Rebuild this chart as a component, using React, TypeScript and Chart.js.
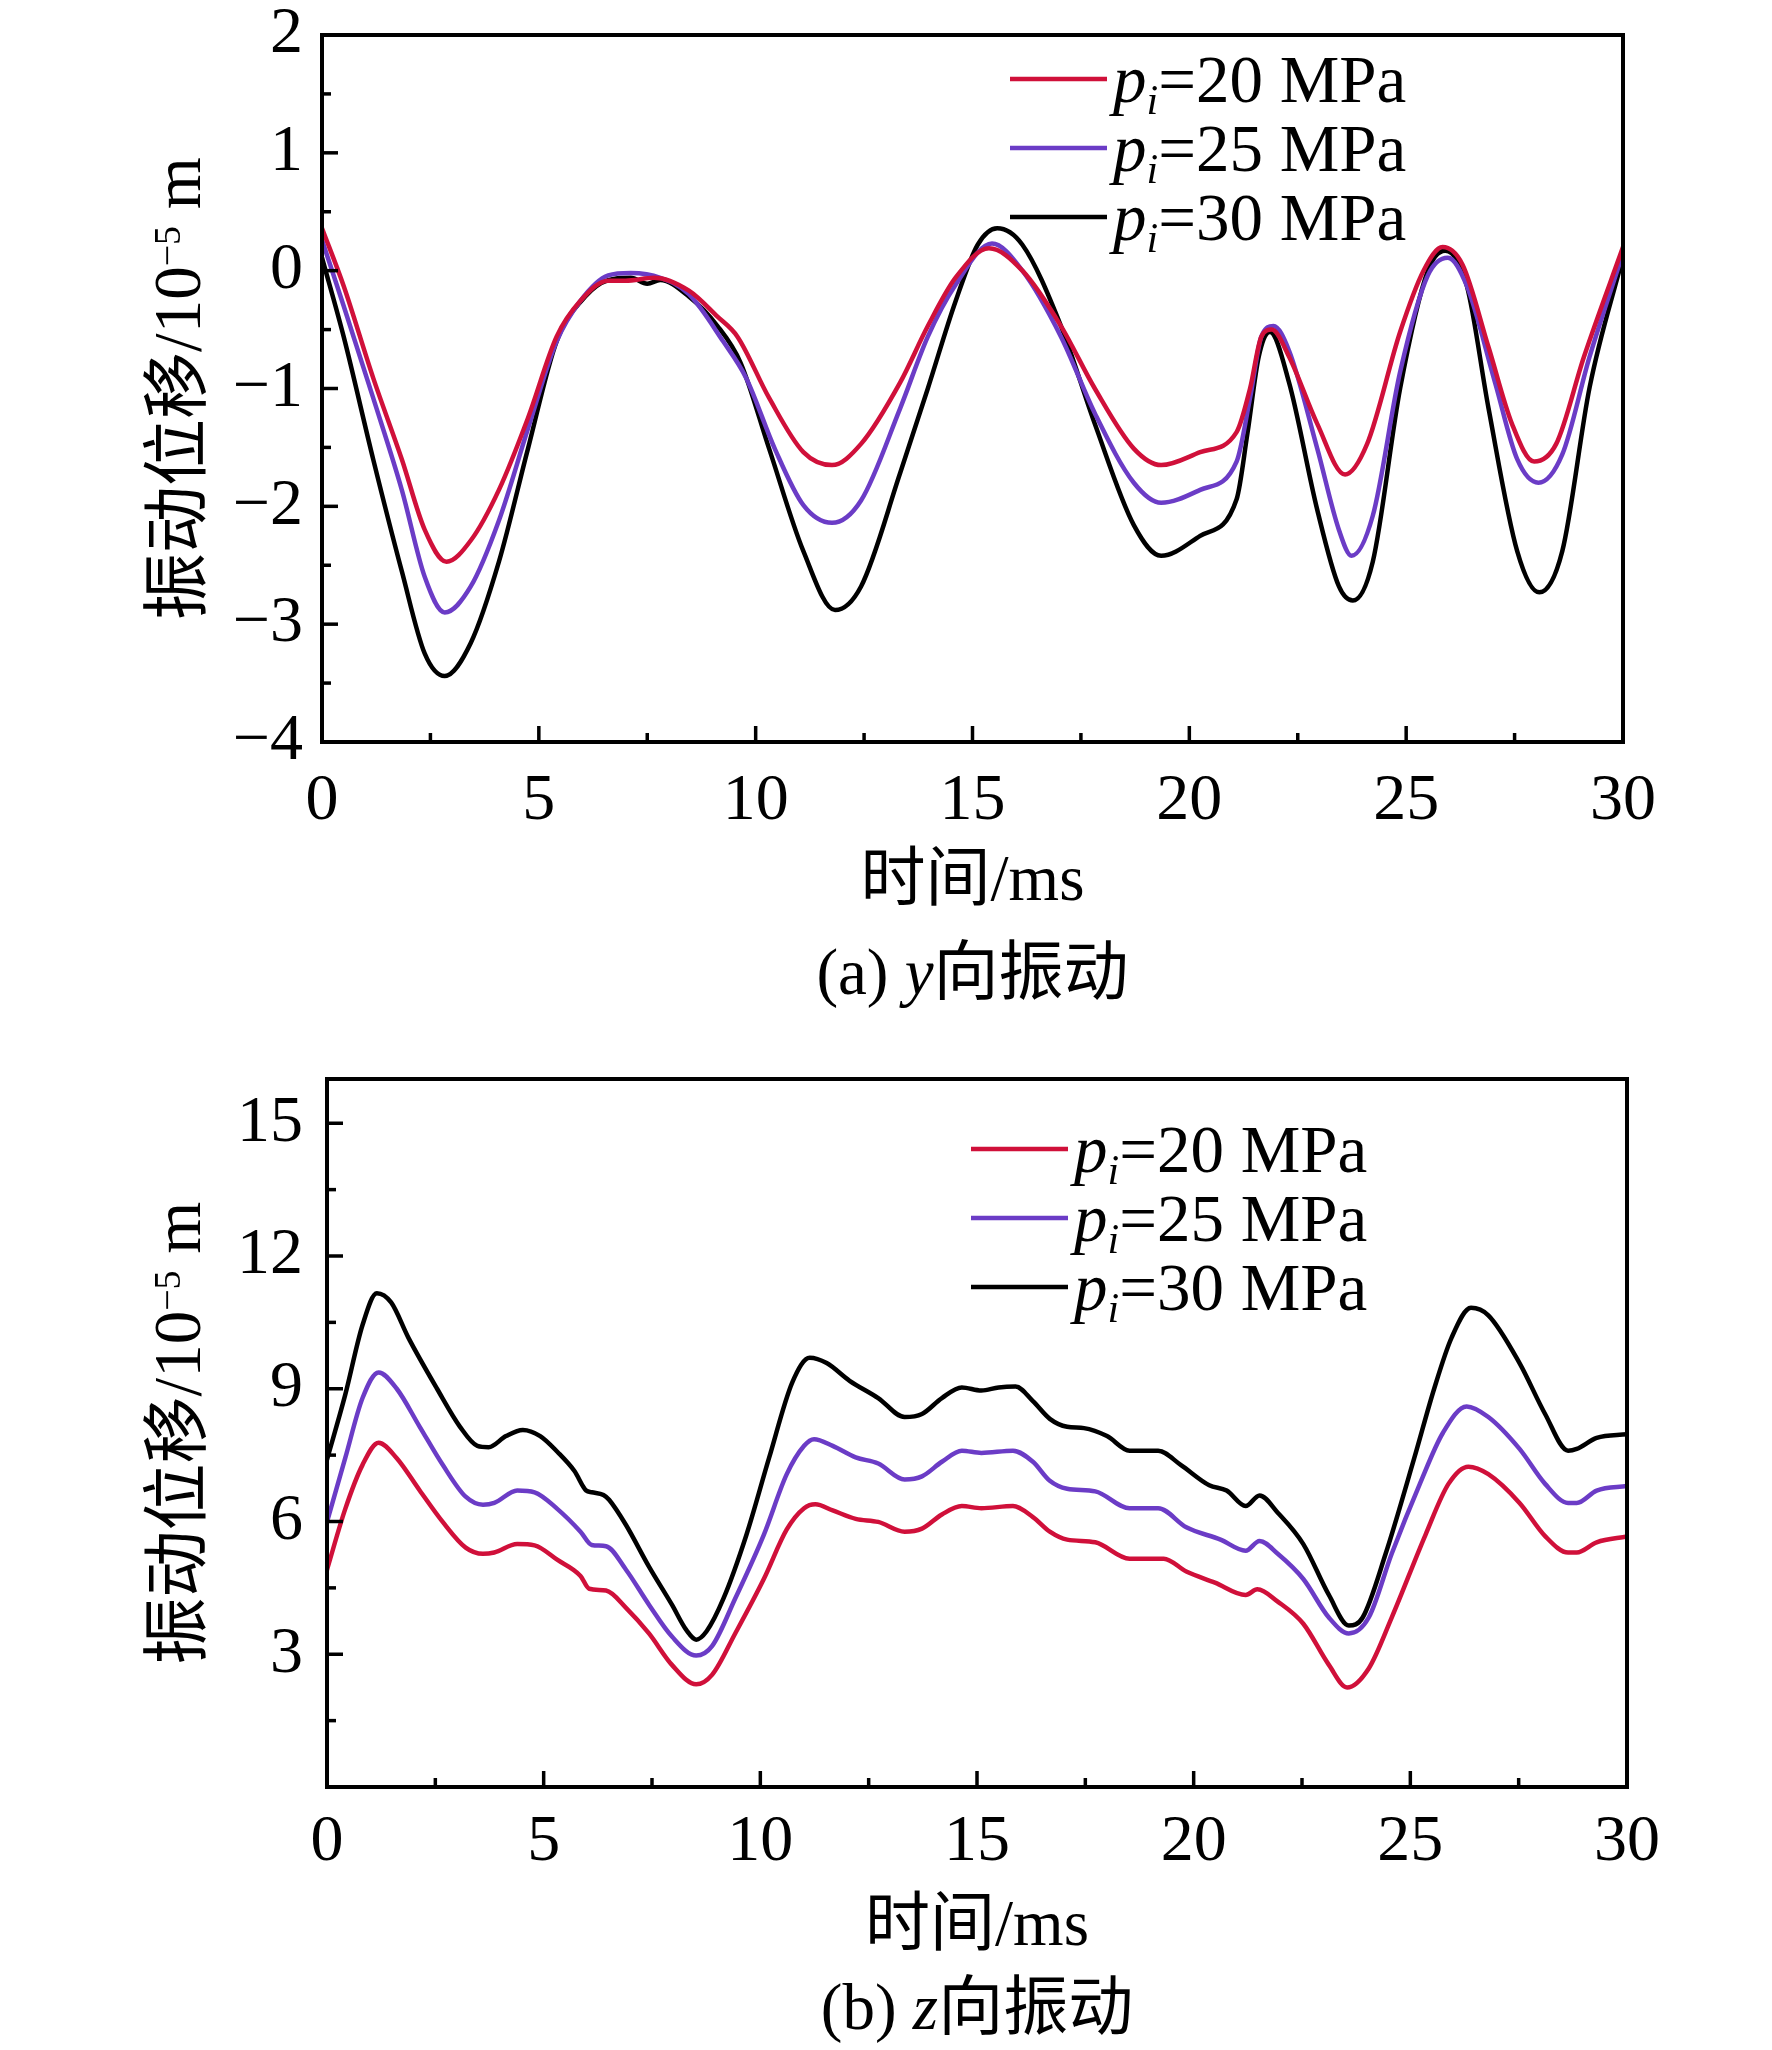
import React, { useEffect, useRef } from 'react';
import { Chart, registerables } from 'chart.js';

Chart.register(...registerables);

const SERIF = "'Liberation Serif', 'Noto Sans CJK SC'";
const RED = '#D0103A';
const PURPLE = '#6B3CC6';
const BLACK = '#000000';

const xTicks = [0, 5, 10, 15, 20, 25, 30];
const pressures = ['20', '25', '30'];

// (a) y向振动
const yTicksA = [-4, -3, -2, -1, 0, 1, 2];
const tA20 = [0, 0.5, 1.18, 1.84, 2.37, 2.87, 3.43, 4.08, 4.75, 5.41, 5.95, 6.6, 7.0, 7.66, 8.46, 9.12, 9.58, 10.31, 11.1, 11.76, 12.43, 13.33, 13.97, 14.61, 15.38, 16.15, 17.04, 17.82, 18.72, 19.35, 20.25, 21.09, 21.4, 21.66, 21.9, 22.3, 22.95, 23.59, 24.1, 24.86, 25.4, 25.84, 26.3, 26.9, 27.44, 27.95, 28.46, 29.1, 30];
const vA20 = [0.36, -0.13, -0.91, -1.6, -2.2, -2.47, -2.29, -1.86, -1.25, -0.56, -0.26, -0.085, -0.085, -0.06, -0.17, -0.39, -0.56, -1.08, -1.54, -1.65, -1.47, -0.95, -0.47, -0.06, 0.19, 0.0, -0.47, -1.0, -1.51, -1.65, -1.54, -1.37, -1.0, -0.56, -0.5, -0.73, -1.3, -1.73, -1.47, -0.52, 0.0, 0.2, 0.05, -0.65, -1.3, -1.62, -1.47, -0.73, 0.2];
const tA25 = [0, 0.5, 1.18, 1.84, 2.37, 2.83, 3.43, 4.08, 4.75, 5.41, 5.95, 6.6, 7.12, 7.8, 8.46, 9.25, 9.78, 10.44, 11.1, 11.76, 12.43, 13.33, 13.97, 14.61, 15.45, 16.15, 17.04, 17.82, 18.72, 19.35, 20.25, 21.09, 21.4, 21.66, 21.94, 22.3, 22.95, 23.45, 23.74, 24.23, 24.86, 25.5, 25.96, 26.4, 27.05, 27.56, 28.05, 28.6, 29.23, 30];
const vA25 = [0.26, -0.3, -1.08, -1.86, -2.6, -2.9, -2.68, -2.12, -1.34, -0.6, -0.26, -0.04, -0.02, -0.06, -0.2, -0.6, -0.91, -1.51, -1.99, -2.14, -1.95, -1.17, -0.56, -0.12, 0.23, 0.0, -0.56, -1.21, -1.8, -1.97, -1.86, -1.62, -1.08, -0.56, -0.47, -0.68, -1.51, -2.2, -2.42, -2.08, -0.86, -0.04, 0.11, -0.13, -0.95, -1.6, -1.8, -1.56, -0.73, 0.15];
const tA30 = [0, 0.5, 1.18, 1.84, 2.37, 2.83, 3.43, 4.08, 4.75, 5.41, 6.07, 6.6, 7.12, 7.5, 7.8, 8.46, 9.12, 9.65, 10.31, 11.1, 11.83, 12.43, 13.33, 13.97, 14.61, 15.12, 15.57, 16.15, 17.04, 17.82, 18.72, 19.35, 20.25, 21.09, 21.34, 21.6, 21.86, 22.3, 22.95, 23.45, 23.77, 24.23, 24.86, 25.5, 25.9, 26.4, 26.9, 27.56, 28.07, 28.6, 29.23, 30];
const vA30 = [0.11, -0.56, -1.6, -2.55, -3.25, -3.44, -3.16, -2.47, -1.51, -0.6, -0.22, -0.08, -0.06, -0.11, -0.08, -0.22, -0.47, -0.78, -1.51, -2.38, -2.88, -2.68, -1.72, -1.0, -0.26, 0.22, 0.36, 0.22, -0.47, -1.3, -2.16, -2.42, -2.25, -1.94, -1.38, -0.73, -0.52, -0.95, -2.03, -2.68, -2.8, -2.47, -1.0, 0.0, 0.17, -0.13, -1.17, -2.38, -2.73, -2.38, -0.99, 0.12];

// (b) z向振动
const yTicksB = [0, 3, 6, 9, 12, 15];
const tB20 = [0, 0.42, 0.82, 1.19, 1.61, 2.14, 2.67, 3.2, 3.6, 3.86, 4.39, 4.79, 5.32, 5.85, 6.05, 6.44, 6.9, 7.43, 7.96, 8.52, 8.89, 9.42, 10.08, 10.61, 11.01, 11.27, 11.67, 12.2, 12.72, 13.33, 13.73, 14.19, 14.65, 15.1, 15.83, 16.29, 16.68, 17.08, 17.73, 18.52, 19.31, 19.83, 20.49, 21.2, 21.47, 21.94, 22.53, 23.12, 23.54, 24.04, 24.57, 25.35, 25.88, 26.34, 26.8, 27.52, 28.11, 28.64, 28.84, 29.3, 30];
const vB20 = [4.91, 6.28, 7.28, 7.78, 7.43, 6.7, 5.99, 5.41, 5.27, 5.3, 5.49, 5.46, 5.13, 4.77, 4.48, 4.44, 4.05, 3.47, 2.76, 2.32, 2.54, 3.47, 4.7, 5.82, 6.3, 6.39, 6.25, 6.06, 5.99, 5.77, 5.84, 6.16, 6.35, 6.3, 6.35, 6.1, 5.77, 5.59, 5.53, 5.16, 5.16, 4.87, 4.62, 4.34, 4.47, 4.19, 3.69, 2.76, 2.25, 2.68, 3.83, 5.7, 6.85, 7.24, 7.07, 6.42, 5.67, 5.3, 5.3, 5.53, 5.66];
const tB25 = [0, 0.42, 0.82, 1.19, 1.61, 2.14, 2.67, 3.2, 3.6, 3.86, 4.39, 4.79, 5.32, 5.85, 6.11, 6.44, 6.9, 7.43, 7.96, 8.52, 8.89, 9.42, 10.08, 10.61, 11.01, 11.24, 11.67, 12.2, 12.72, 13.33, 13.73, 14.19, 14.65, 15.1, 15.83, 16.29, 16.68, 17.08, 17.73, 18.52, 19.18, 19.83, 20.62, 21.2, 21.52, 21.94, 22.53, 23.12, 23.58, 24.04, 24.57, 25.22, 25.75, 26.3, 26.8, 27.52, 28.11, 28.64, 28.84, 29.3, 30];
const vB25 = [5.99, 7.43, 8.79, 9.37, 9.0, 8.14, 7.28, 6.56, 6.38, 6.42, 6.7, 6.66, 6.28, 5.77, 5.47, 5.44, 4.91, 4.12, 3.4, 2.97, 3.19, 4.26, 5.7, 7.07, 7.71, 7.86, 7.71, 7.45, 7.31, 6.95, 7.02, 7.35, 7.6, 7.55, 7.6, 7.35, 6.92, 6.74, 6.68, 6.3, 6.3, 5.87, 5.59, 5.34, 5.56, 5.27, 4.7, 3.83, 3.47, 3.83, 5.27, 6.85, 8.0, 8.6, 8.36, 7.64, 6.85, 6.42, 6.42, 6.7, 6.8];
const tB30 = [0, 0.42, 0.82, 1.15, 1.48, 1.88, 2.54, 3.07, 3.47, 3.73, 4.13, 4.52, 4.92, 5.32, 5.71, 5.98, 6.11, 6.38, 6.51, 6.9, 7.43, 7.96, 8.29, 8.52, 8.76, 9.15, 9.68, 10.2, 10.74, 11.14, 11.53, 12.06, 12.72, 13.33, 13.73, 14.19, 14.65, 15.1, 15.5, 15.89, 16.29, 16.68, 17.08, 17.47, 18.0, 18.52, 19.18, 19.7, 20.36, 20.76, 21.2, 21.52, 21.94, 22.53, 23.12, 23.58, 23.9, 24.43, 25.09, 25.55, 25.95, 26.4, 26.8, 27.52, 28.11, 28.64, 28.84, 29.3, 30];
const vB30 = [7.4, 8.86, 10.44, 11.16, 10.95, 10.15, 9.0, 8.14, 7.71, 7.68, 7.93, 8.07, 7.93, 7.57, 7.14, 6.7, 6.66, 6.6, 6.49, 5.92, 4.98, 4.12, 3.55, 3.33, 3.52, 4.26, 5.7, 7.43, 9.15, 9.7, 9.58, 9.18, 8.79, 8.36, 8.43, 8.79, 9.03, 8.96, 9.03, 9.05, 8.72, 8.32, 8.14, 8.11, 7.93, 7.6, 7.6, 7.28, 6.82, 6.7, 6.35, 6.59, 6.2, 5.49, 4.34, 3.65, 3.83, 5.27, 7.43, 9.0, 10.15, 10.83, 10.66, 9.58, 8.43, 7.6, 7.64, 7.89, 7.97];

const W = 1772;
const H = 1025;

type Run = { text: string; font: string; dy?: number };

interface Panel {
  lines: { t: number[]; v: number[]; color: string }[];
  yMin: number;
  yMax: number;
  yTicks: number[];
  yLabelPad: number;
  xLabelPad: number;
  area: { left: number; right: number; top: number; bottom: number };
  legendX: number;
  legendY: number;
  caption: [string, string, string];
  titleGap: number;
  captionGap: number;
}

const panelA: Panel = {
  lines: [
    { t: tA20, v: vA20, color: RED },
    { t: tA25, v: vA25, color: PURPLE },
    { t: tA30, v: vA30, color: BLACK },
  ],
  yMin: -4,
  yMax: 2,
  yTicks: yTicksA,
  yLabelPad: 11,
  xLabelPad: 19,
  area: { left: 322, right: 1623, top: 35, bottom: 742 },
  legendX: 1010,
  legendY: 79,
  caption: ['(a) ', 'y', '向振动'],
  titleGap: 141,
  captionGap: 235,
};

const panelB: Panel = {
  lines: [
    { t: tB20, v: vB20, color: RED },
    { t: tB25, v: vB25, color: PURPLE },
    { t: tB30, v: vB30, color: BLACK },
  ],
  yMin: 0,
  yMax: 16,
  yTicks: yTicksB,
  yLabelPad: 16,
  xLabelPad: 15,
  area: { left: 327, right: 1627, top: 54, bottom: 762 },
  legendX: 971,
  legendY: 124,
  caption: ['(b) ', 'z', '向振动'],
  titleGap: 141,
  captionGap: 225,
};

function runsWidth(ctx: CanvasRenderingContext2D, runs: Run[]) {
  let w = 0;
  runs.forEach((r) => {
    ctx.font = r.font;
    w += ctx.measureText(r.text).width;
  });
  return w;
}

function drawRuns(ctx: CanvasRenderingContext2D, runs: Run[], x: number, y: number) {
  let cx = x;
  runs.forEach((r) => {
    ctx.font = r.font;
    ctx.fillText(r.text, cx, y + (r.dy || 0));
    cx += ctx.measureText(r.text).width;
  });
}

// frame, inward ticks, titles, caption and legend
function decor(p: Panel) {
  return {
    id: 'decor',
    afterDraw(chart: any) {
      const { ctx, chartArea: a } = chart;
      const xs = chart.scales.x;
      const ys = chart.scales.y;
      ctx.save();
      ctx.strokeStyle = '#000';
      ctx.fillStyle = '#000';
      ctx.lineWidth = 4;
      ctx.strokeRect(a.left, a.top, a.right - a.left, a.bottom - a.top);

      ctx.lineWidth = 3.5;
      const xv = xs.ticks.map((t: any) => t.value);
      xv.forEach((v: number, i: number) => {
        const px = xs.getPixelForValue(v);
        ctx.beginPath();
        ctx.moveTo(px, a.bottom);
        ctx.lineTo(px, a.bottom - 16);
        ctx.stroke();
        if (i < xv.length - 1) {
          const mx = xs.getPixelForValue((v + xv[i + 1]) / 2);
          ctx.beginPath();
          ctx.moveTo(mx, a.bottom);
          ctx.lineTo(mx, a.bottom - 9);
          ctx.stroke();
        }
      });
      const yv = ys.ticks.map((t: any) => t.value);
      yv.forEach((v: number, i: number) => {
        const py = ys.getPixelForValue(v);
        ctx.beginPath();
        ctx.moveTo(a.left, py);
        ctx.lineTo(a.left + 16, py);
        ctx.stroke();
        if (i < yv.length - 1) {
          const my = ys.getPixelForValue((v + yv[i + 1]) / 2);
          ctx.beginPath();
          ctx.moveTo(a.left, my);
          ctx.lineTo(a.left + 9, my);
          ctx.stroke();
        }
      });

      const cx = (a.left + a.right) / 2;
      ctx.textBaseline = 'middle';
      ctx.textAlign = 'left';
      const xTitle: Run[] = [{ text: '时间/ms', font: `65px ${SERIF}` }];
      drawRuns(ctx, xTitle, cx - runsWidth(ctx, xTitle) / 2, a.bottom + p.titleGap);

      const cap: Run[] = [
        { text: p.caption[0], font: `65px ${SERIF}` },
        { text: p.caption[1], font: `italic 65px ${SERIF}` },
        { text: p.caption[2], font: `65px ${SERIF}` },
      ];
      drawRuns(ctx, cap, cx - runsWidth(ctx, cap) / 2, a.bottom + p.captionGap);

      ctx.textBaseline = 'alphabetic';
      const yTitle: Run[] = [
        { text: '振动位移/10', font: `67px ${SERIF}` },
        { text: '\u22125', font: `38px ${SERIF}`, dy: -20 },
        { text: ' m', font: `67px ${SERIF}` },
      ];
      ctx.save();
      ctx.translate(200, (a.top + a.bottom) / 2);
      ctx.rotate(-Math.PI / 2);
      drawRuns(ctx, yTitle, -runsWidth(ctx, yTitle) / 2, 0);
      ctx.restore();

      p.lines.forEach((ln, i) => {
        const ly = p.legendY + i * 69;
        ctx.strokeStyle = ln.color;
        ctx.lineWidth = 4.5;
        ctx.beginPath();
        ctx.moveTo(p.legendX, ly);
        ctx.lineTo(p.legendX + 97, ly);
        ctx.stroke();
        drawRuns(ctx, [
          { text: 'p', font: `italic 67px ${SERIF}` },
          { text: 'i', font: `italic 42px ${SERIF}`, dy: 12 },
          { text: `=${pressures[i]} MPa`, font: `67px ${SERIF}` },
        ], p.legendX + 103, ly + 23);
      });
      ctx.restore();
    },
  };
}

const fmt = (v: number | string) => String(v).replace('-', '\u2212');

const PanelChart: React.FC<{ panel: Panel }> = ({ panel }) => {
  const canvasRef = useRef<HTMLCanvasElement>(null);
  const chartRef = useRef<Chart>();

  useEffect(() => {
    if (!canvasRef.current) return;
    const p = panel;
    chartRef.current = new Chart(canvasRef.current, {
      type: 'line',
      data: {
        datasets: p.lines.map((ln, i) => ({
          label: pressures[i],
          data: ln.t.map((t, k) => ({ x: t, y: ln.v[k] })),
          borderColor: ln.color,
          borderWidth: 4.5,
          pointRadius: 0,
          fill: false,
          cubicInterpolationMode: 'monotone' as const,
        })),
      },
      options: {
        responsive: false,
        animation: false,
        devicePixelRatio: 1,
        layout: {
          autoPadding: false,
          padding: { left: 0, right: W - p.area.right, top: p.area.top, bottom: 0 },
        },
        plugins: { legend: { display: false }, tooltip: { enabled: false } },
        scales: {
          x: {
            type: 'linear',
            min: 0,
            max: 30,
            afterBuildTicks: (s: any) => { s.ticks = xTicks.map((v) => ({ value: v })); },
            afterFit: (s: any) => { s.height = H - p.area.bottom; },
            grid: { display: false },
            border: { display: false },
            ticks: {
              color: '#000',
              padding: p.xLabelPad,
              maxRotation: 0,
              autoSkip: false,
              font: { family: SERIF, size: 66, lineHeight: 1 },
              callback: (v: any) => fmt(v),
            },
          },
          y: {
            type: 'linear',
            min: p.yMin,
            max: p.yMax,
            afterBuildTicks: (s: any) => { s.ticks = p.yTicks.map((v) => ({ value: v })); },
            afterFit: (s: any) => {
              s.width = p.area.left;
              s.paddingTop = 0;
              s.paddingBottom = 0;
            },
            grid: { display: false },
            border: { display: false },
            ticks: {
              color: '#000',
              padding: p.yLabelPad,
              autoSkip: false,
              font: { family: SERIF, size: 66, lineHeight: 0.3 },
              callback: (v: any) => (p.yMin === 0 && v === 0 ? '' : fmt(v)),
            },
          },
        },
      },
      plugins: [decor(p)],
    });
    return () => {
      if (chartRef.current) chartRef.current.destroy();
    };
  }, [panel]);

  return <canvas ref={canvasRef} width={W} height={H} style={{ display: 'block' }} />;
};

const App: React.FC = () => (
  <div style={{ position: 'absolute', left: 0, top: 0, width: W, height: 2 * H, background: '#fff' }}>
    <PanelChart panel={panelA} />
    <PanelChart panel={panelB} />
  </div>
);

export default App;
